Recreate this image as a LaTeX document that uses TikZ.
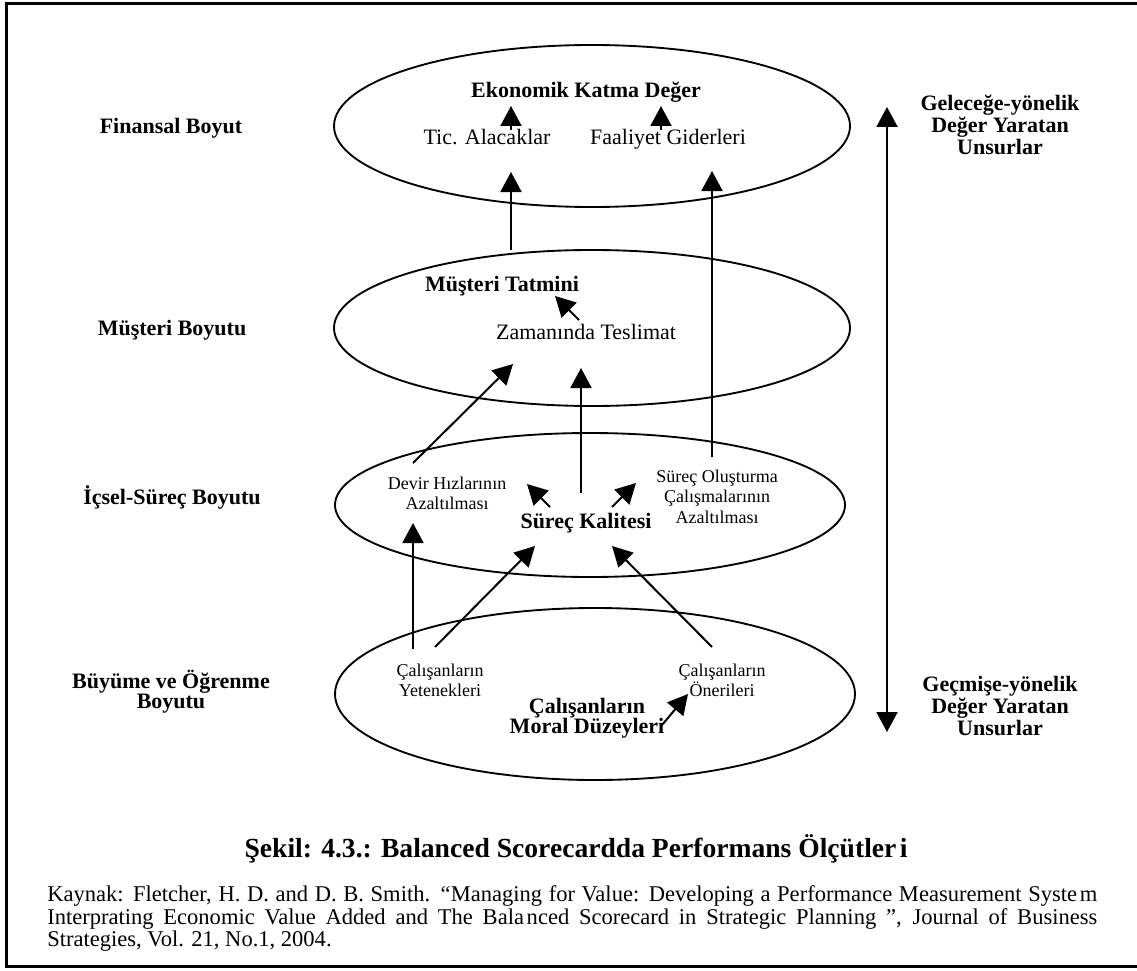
\documentclass[tikz,border=0pt]{standalone}
\usepackage{fontspec}
\setmainfont{Liberation Serif}
\usetikzlibrary{arrows.meta,shapes.geometric}
\newlength\pxu
\setlength\pxu{0.75pt}
\newcommand\mlines[1]{\vtop{\lineskiplimit=-50pt\relax\lineskip=0pt\relax\halign{\hfil##\hfil\cr#1\crcr}}}
\begin{document}
\begin{tikzpicture}[x=0.75pt,y=-0.75pt,
  bl/.style={font=\fontsize{16.5pt}{15pt}\selectfont\bfseries, anchor=base, inner sep=0pt},
  rl/.style={font=\fontsize{16.5pt}{16.5pt}\selectfont\bfseries, anchor=base, inner sep=0pt},
  rg/.style={font=\fontsize{16.5pt}{16.5pt}\selectfont, anchor=base, inner sep=0pt},
  sm/.style={font=\fontsize{13.5pt}{15.4pt}\selectfont, anchor=base, inner sep=0pt},
  oval/.style={draw, ellipse, line width=1.4pt, inner sep=0pt},
  arr/.style={line width=1.5pt, -{Triangle[width=15.75pt,length=15pt]}},
  darr/.style={line width=1.5pt, {Triangle[width=15.75pt,length=15pt]}-{Triangle[width=15.75pt,length=15pt]}}
]
\useasboundingbox (0,0) rectangle (1137,970);
% frame
\draw[line width=2.3pt] (1145,3.5) -- (6.5,3.5) -- (6.5,966.5) -- (1145,966.5);

% ellipses
\node[oval, minimum width=516\pxu, minimum height=162\pxu] (e1) at (592,126) {};
\node[oval, minimum width=516\pxu, minimum height=156\pxu] (e2) at (592,328) {};
\node[oval, minimum width=510\pxu, minimum height=144\pxu] (e3) at (590,505) {};
\node[oval, minimum width=520\pxu, minimum height=172\pxu] (e4) at (595,694) {};

% texts inside ellipses
\node[bl] (ekd) at (586,98) {Ekonomik Katma Değer};
\node[rg] (tic) at (487,145) {Tic. Alacaklar};
\node[rg] (fg) at (668,145) {Faaliyet Giderleri};
\node[bl] (mt) at (502,291) {Müşteri Tatmini};
\node[rg] (zt) at (586,339) {Zamanında Teslimat};
\node[sm] (dh) at (447,489) {\mlines{Devir Hızlarının\cr Azaltılması}};
\node[bl] (sk) at (586,528) {Süreç Kalitesi};
\node[sm] (so) at (717,482) {\mlines{Süreç Oluşturma\cr Çalışmalarının\cr Azaltılması}};
\node[sm] (cy) at (440,676) {\mlines{Çalışanların\cr Yetenekleri}};
\node[sm] (co) at (722,676) {\mlines{Çalışanların\cr Önerileri}};
\node[bl] (cm) at (587,713) {\mlines{Çalışanların\cr Moral Düzeyleri}};

% left labels
\node[bl] (l1) at (171,133) {Finansal Boyut};
\node[bl] (l2) at (172,335) {Müşteri Boyutu};
\node[bl] (l3) at (172,504) {İçsel-Süreç Boyutu};
\node[bl] (l4) at (171,688) {\mlines{Büyüme ve Öğrenme\cr Boyutu}};

% right labels
\node[rl] (r1) at (1000,111) {\mlines{Geleceğe-yönelik\cr Değer Yaratan\cr Unsurlar}};
\node[rl] (r2) at (1000,691) {\mlines{Geçmişe-yönelik\cr Değer Yaratan\cr Unsurlar}};

% arrow end points
\coordinate (a1s) at (511,130); \coordinate (a1e) at (511,106);
\coordinate (a2s) at (661,130); \coordinate (a2e) at (661,106);
\coordinate (a3s) at (511,250); \coordinate (a3e) at (511,172);
\coordinate (a4s) at (712,457); \coordinate (a4e) at (712,171);
\coordinate (a5s) at (579,320); \coordinate (a5e) at (555,296);
\coordinate (a6s) at (413,463); \coordinate (a6e) at (513,364);
\coordinate (a7s) at (581,493); \coordinate (a7e) at (581,368);
\coordinate (a8s) at (550,507); \coordinate (a8e) at (527,484);
\coordinate (a9s) at (612,507); \coordinate (a9e) at (636,483);
\coordinate (a10s) at (413,649); \coordinate (a10e) at (413,523);
\coordinate (a11s) at (435,647); \coordinate (a11e) at (535,546);
\coordinate (a12s) at (712,647); \coordinate (a12e) at (612,546);
\coordinate (a13s) at (662,725); \coordinate (a13e) at (688,694);
\coordinate (dt) at (887,107); \coordinate (db) at (887,732);

\draw[arr] (a1s) -- (a1e);
\draw[arr] (a2s) -- (a2e);
\draw[arr] (a3s) -- (a3e);
\draw[arr] (a4s) -- (a4e);
\draw[arr] (a5s) -- (a5e);
\draw[arr] (a6s) -- (a6e);
\draw[arr] (a7s) -- (a7e);
\draw[arr] (a8s) -- (a8e);
\draw[arr] (a9s) -- (a9e);
\draw[arr] (a10s) -- (a10e);
\draw[arr] (a11s) -- (a11e);
\draw[arr] (a12s) -- (a12e);
\draw[arr] (a13s) -- (a13e);
\draw[darr] (dt) -- (db);

% caption
\node[font=\fontsize{20.7pt}{22pt}\selectfont\bfseries, anchor=base, inner sep=0pt] (cap) at (576,857) {Şekil: 4.3.: Balanced Scorecardda Performans Ölçütler\kern0.12em i};
% source
\node[font=\fontsize{16.9pt}{17pt}\selectfont, anchor=base west, inner sep=0pt] (src1) at (47,901) {\makebox[1050\pxu][s]{Kaynak: Fletcher, H. D. and D. B. Smith. “Managing for Value: Developing a Performance Measurement Syste\kern0.12em m}};
\node[font=\fontsize{16.9pt}{17pt}\selectfont, anchor=base west, inner sep=0pt] (src2) at (47,924) {\makebox[1050\pxu][s]{Interprating Economic Value Added and The Bala\kern0.12em nced Scorecard in Strategic Planning ”, Journal of Business}};
\node[font=\fontsize{16.9pt}{17pt}\selectfont, anchor=base west, inner sep=0pt] (src3) at (47,946) {Strategies, Vol. 21, No.1, 2004.};
\end{tikzpicture}
\end{document}
